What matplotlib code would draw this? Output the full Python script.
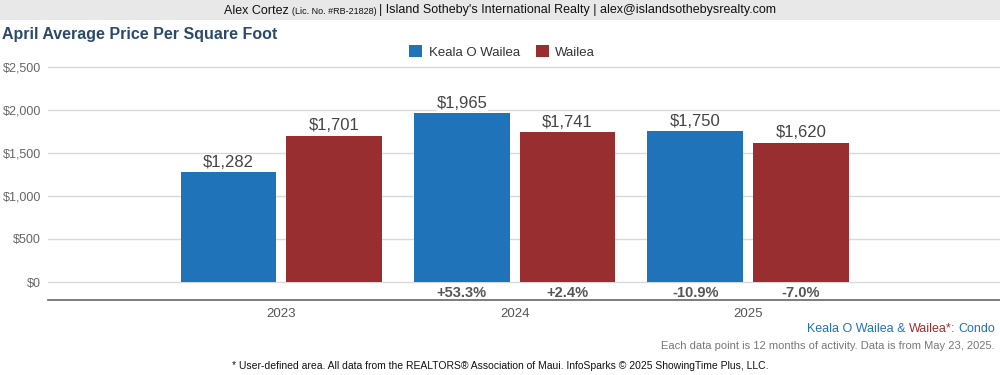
import matplotlib
matplotlib.use("Agg")
import matplotlib.pyplot as plt
import numpy as np

years = ["2023", "2024", "2025"]
keala = [1282, 1965, 1750]
wailea = [1701, 1741, 1620]
keala_chg = ["", "+53.3%", "-10.9%"]
wailea_chg = ["", "+2.4%", "-7.0%"]
yticks = [0, 500, 1000, 1500, 2000, 2500]

BLUE = "#1f73b8"
RED = "#992e31"
plt.rcParams['font.family'] = ['Liberation Sans', 'DejaVu Sans']

fig = plt.figure(figsize=(10, 3.75), dpi=100)
ax = fig.add_axes([0.048, 0.2, 0.952, 0.64])

x = np.arange(len(years))
w = 0.41
off = 0.226
ax.bar(x - off, keala, w, color=BLUE, label="Keala O Wailea", zorder=3)
ax.bar(x + off, wailea, w, color=RED, label="Wailea", zorder=3)

for i in range(len(years)):
    for xx, v in ((x[i] - off, keala[i]), (x[i] + off, wailea[i])):
        ax.text(xx, v + 25, "${:,}".format(v), ha="center", va="bottom",
                fontsize=12, color="#444444", zorder=4,
                bbox=dict(facecolor="white", edgecolor="none", pad=0.5))
    for xx, s in ((x[i] - off, keala_chg[i]), (x[i] + off, wailea_chg[i])):
        if s:
            ax.text(xx, -130, s, ha="center", va="center", fontsize=10.5,
                    fontweight="bold", color="#555555")

ax.set_xlim(-1.0, 3.08)
ax.set_ylim(-209, 2580)
ax.set_yticks(yticks)
ax.set_yticklabels(["${:,}".format(t) for t in yticks], color="#666666", fontsize=9)
ax.set_xticks(x)
ax.set_xticklabels(years, color="#555555", fontsize=9.5)
ax.tick_params(length=0)
ax.tick_params(axis="y", pad=5)
ax.tick_params(axis="x", pad=6)
ax.grid(axis="y", color="#d9d9d9", linewidth=1, zorder=0)
for s in ["top", "right", "left"]:
    ax.spines[s].set_visible(False)
ax.spines["bottom"].set_color("#666666")
ax.spines["bottom"].set_linewidth(1.2)

ax.legend(loc="center", bbox_to_anchor=(0.477, 1.033), ncol=2, frameon=False,
          fontsize=9.5, handlelength=1.0, handleheight=1.0, columnspacing=1.2,
          handletextpad=0.5, labelcolor="#333333")

# header band
fig.patches.append(plt.Rectangle((0, 1 - 20 / 375), 1, 20 / 375, transform=fig.transFigure,
                                 facecolor="#e8e8e8", edgecolor="none", zorder=0))
narrow = ['Liberation Sans Narrow', 'Liberation Sans', 'DejaVu Sans']
fig.canvas.draw()
r = fig.canvas.get_renderer()
parts = [("Alex Cortez ", 9), ("(Lic. No. #RB-21828) ", 6.5), ("| Island Sotheby's International Realty | alex@islandsothebysrealty.com", 9)]
tmp = []
for s, fs in parts:
    t = fig.text(0, 0, s, fontsize=fs, family=narrow)
    tmp.append(t.get_window_extent(r).width)
    t.remove()
xpos = 500 - sum(tmp) / 2
for (s, fs), wd in zip(parts, tmp):
    fig.text(xpos / 1000, 1 - 13.5 / 375, s, fontsize=fs, family=narrow, color="#111111")
    xpos += wd

fig.text(0.002, 1 - 34 / 375, "April Average Price Per Square Foot", fontsize=11.5,
         fontweight="bold", color="#2b4a6b", va="center")

# bottom captions
t1 = fig.text(0.995, 1 - 329 / 375, "Condo", ha="right", va="center", fontsize=9, color=BLUE)
fig.canvas.draw()
xr = t1.get_window_extent(r).x0
pieces = [("Keala O Wailea & ", BLUE), ("Wailea*", RED), (": ", BLUE)]
widths = []
for s, c in pieces:
    t = fig.text(0, 0, s, fontsize=9)
    widths.append(t.get_window_extent(r).width)
    t.remove()
for (s, c), wd in zip(reversed(pieces), reversed(widths)):
    xr -= wd
    fig.text(xr / 1000, 1 - 329 / 375, s, va="center", fontsize=9, color=c)

fig.text(0.995, 1 - 346 / 375, "Each data point is 12 months of activity. Data is from May 23, 2025.",
         ha="right", va="center", fontsize=8, color="#777777")
fig.text(0.5, 1 - 366 / 375,
         "* User-defined area. All data from the REALTORS\u00ae Association of Maui. InfoSparks \u00a9 2025 ShowingTime Plus, LLC.",
         ha="center", va="center", fontsize=7.5, color="#111111", family=narrow)

fig.savefig("out.png", dpi=100)
